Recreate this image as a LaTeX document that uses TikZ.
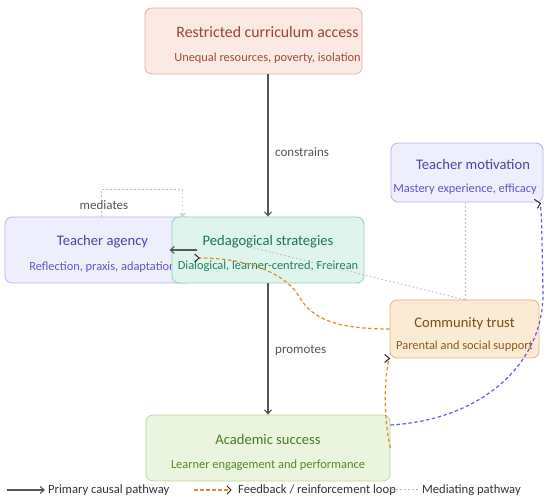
\documentclass[tikz,border=0pt]{standalone}
\usepackage{fontspec}
\setmainfont{Carlito}
\usetikzlibrary{calc,arrows.meta}
\definecolor{rcaFill}{HTML}{FBE9E4}\definecolor{rcaDraw}{HTML}{E6AE9F}
\definecolor{rcaTitle}{HTML}{9A4431}\definecolor{rcaSub}{HTML}{A64B34}
\definecolor{purFill}{HTML}{EFEEFD}\definecolor{purDraw}{HTML}{B9B3EF}
\definecolor{purTitle}{HTML}{4F43A6}\definecolor{purSub}{HTML}{6557C9}
\definecolor{pedFill}{HTML}{DFF4EC}\definecolor{pedDraw}{HTML}{8FD2BD}
\definecolor{pedTitle}{HTML}{1F7458}\definecolor{pedSub}{HTML}{24805F}
\definecolor{comFill}{HTML}{FCEBD4}\definecolor{comDraw}{HTML}{DEB47C}
\definecolor{comTitle}{HTML}{7B4E17}\definecolor{comSub}{HTML}{8E5B1C}
\definecolor{acaFill}{HTML}{EBF4DF}\definecolor{acaDraw}{HTML}{B6D69C}
\definecolor{acaTitle}{HTML}{4A7B22}\definecolor{acaSub}{HTML}{558A26}
\definecolor{arrowGray}{HTML}{555555}\definecolor{fbOrange}{HTML}{D98E2E}
\definecolor{motPurple}{HTML}{6B5BE0}\definecolor{medGray}{HTML}{BDBDBD}
\definecolor{lblGray}{HTML}{555555}\definecolor{legGray}{HTML}{333333}
\begin{document}
\begin{tikzpicture}[x=1pt,y=-1pt,
  box/.style={draw, rounded corners=7pt, line width=0.8pt, inner sep=0pt},
  ttl/.style={anchor=base, inner sep=0pt, font=\fontsize{14.6}{16}\selectfont},
  sub/.style={anchor=base, inner sep=0pt, font=\fontsize{12.4}{14}\selectfont},
  primary/.style={draw=arrowGray, line width=1.1pt, -{Straight Barb[length=4pt,width=7pt]}},
  feedback/.style={draw=fbOrange, line width=1.2pt, dash pattern=on 3.5pt off 2.5pt},
  motiv/.style={draw=motPurple, line width=1.2pt, dash pattern=on 3.5pt off 2.5pt},
  mediate/.style={draw=medGray, line width=1pt, dash pattern=on 1.5pt off 2.5pt},
  chev/.style={draw=black!85, line width=1pt},
  lbl/.style={text=lblGray, inner sep=1pt, font=\fontsize{13}{15}\selectfont},
  leg/.style={text=legGray, inner sep=0pt, anchor=west, font=\fontsize{12.6}{15}\selectfont}]
\useasboundingbox (0,0) rectangle (550,502);
% boxes
\node[box, fill=rcaFill, draw=rcaDraw, minimum width=217pt, minimum height=66pt] (rca) at (253.5,41) {};
\node[ttl, text=rcaTitle, font=\fontsize{15.8}{17}\selectfont] (rcaT) at ($(rca.center)+(14,-3)$) {Restricted curriculum access};
\node[sub, text=rcaSub] (rcaS) at ($(rca.center)+(14,20.5)$) {Unequal resources, poverty, isolation};

\node[box, fill=purFill, draw=purDraw, minimum width=152pt, minimum height=59pt] (mot) at (467,172.5) {};
\node[ttl, text=purTitle] (motT) at ($(mot.center)+(6,-3)$) {Teacher motivation};
\node[sub, text=purSub] (motS) at ($(mot.center)+(-2,20.5)$) {Mastery experience, efficacy};

\node[box, fill=purFill, draw=purDraw, minimum width=187pt, minimum height=66pt] (agency) at (98.5,250) {};
\node[ttl, text=purTitle] (agT) at ($(agency.center)+(4,-4)$) {Teacher agency};
\node[sub, text=purSub] (agS) at ($(agency.center)+(4,20.5)$) {Reflection, praxis, adaptation};

\node[box, fill=pedFill, draw=pedDraw, minimum width=192pt, minimum height=66pt] (ped) at (268,250) {};
\node[ttl, text=pedTitle] (pedT) at ($(ped.center)+(0,-4)$) {Pedagogical strategies};
\node[sub, text=pedSub] (pedS) at ($(ped.center)+(0,20)$) {Dialogical, learner-centred, Freirean};

\node[box, fill=comFill, draw=comDraw, minimum width=149pt, minimum height=58pt] (com) at (464.5,329) {};
\node[ttl, text=comTitle] (comT) at ($(com.center)+(0,-1)$) {Community trust};
\node[sub, text=comSub] (comS) at ($(com.center)+(0,20.5)$) {Parental and social support};

\node[box, fill=acaFill, draw=acaDraw, minimum width=244pt, minimum height=66pt] (acad) at (268,448) {};
\node[ttl, text=acaTitle] (acaT) at ($(acad.center)+(0,-3)$) {Academic success};
\node[sub, text=acaSub] (acaS) at ($(acad.center)+(0,20.5)$) {Learner engagement and performance};

% primary pathways
\draw[primary] (ped.north |- rca.south) -- (ped.north);
\node[lbl, anchor=west] (lcon) at (274,152) {constrains};
\draw[primary] (ped.south) -- (acad.north);
\node[lbl, anchor=west] (lpro) at (274,350) {promotes};
\draw[primary] ($(ped.west)+(25,0)$) -- ($(ped.west)+(-2,0)$);

% mediating
\draw[mediate, -{Straight Barb[length=2.5pt,width=5pt]}] ($(agency.north)+(2.5,0)$) -- ++(0,-27) -| ($(ped.north west)+(11,0)$);
\node[lbl, fill=white] (lmed) at (104,205) {mediates};
\draw[mediate] ($(com.north)+(0.5,0)$) |- ($(mot.south)+(0,1)$);
\draw[mediate] (com.north) -- ($(ped.center)+(-18,-3)$);

% feedback loops
\draw[feedback] (com.west) .. controls (335,329) and (312,318) .. (300,298) .. controls (288,275) and (250,258) .. ($(ped.west)+(28,8)$);
\draw[chev] ($(ped.west)+(23,4)$) -- ($(ped.west)+(27.5,8)$) -- ($(ped.west)+(23,12)$);
\draw[feedback] (acad.east) .. controls (385,425) and (383,390) .. ($(com.south west)+(-1,1)$);
\draw[chev] ($(com.south west)+(-5,-4)$) -- ($(com.south west)+(0,0)$) -- ($(com.south west)+(-5,4)$);
\draw[motiv] ($(acad.east)+(0,-23)$) .. controls (480,420) and (545,365) .. (543,290) .. controls (542,245) and (542,220) .. ($(mot.south east)+(-3,2)$);
\draw[chev] ($(mot.south east)+(-9,-3)$) -- ($(mot.south east)+(-3,1)$) -- ($(mot.south east)+(-6,6)$);

% legend
\coordinate (l1a) at (7,490); \coordinate (l1b) at (45,490);
\draw[primary] (l1a) -- (l1b);
\node[leg] (leg1) at (48,490) {Primary causal pathway};
\coordinate (l2a) at (194,490); \coordinate (l2b) at (231,490);
\draw[feedback] (l2a) -- (l2b);
\draw[chev] ($(l2b)+(-4,-4)$) -- (l2b) -- ($(l2b)+(-4,4)$);
\node[leg] (leg2) at (238,490) {Feedback / reinforcement loop};
\coordinate (l3a) at (392,490); \coordinate (l3b) at (418,490);
\draw[mediate] (l3a) -- (l3b);
\node[leg] (leg3) at (422,490) {Mediating pathway};
\end{tikzpicture}
\end{document}
